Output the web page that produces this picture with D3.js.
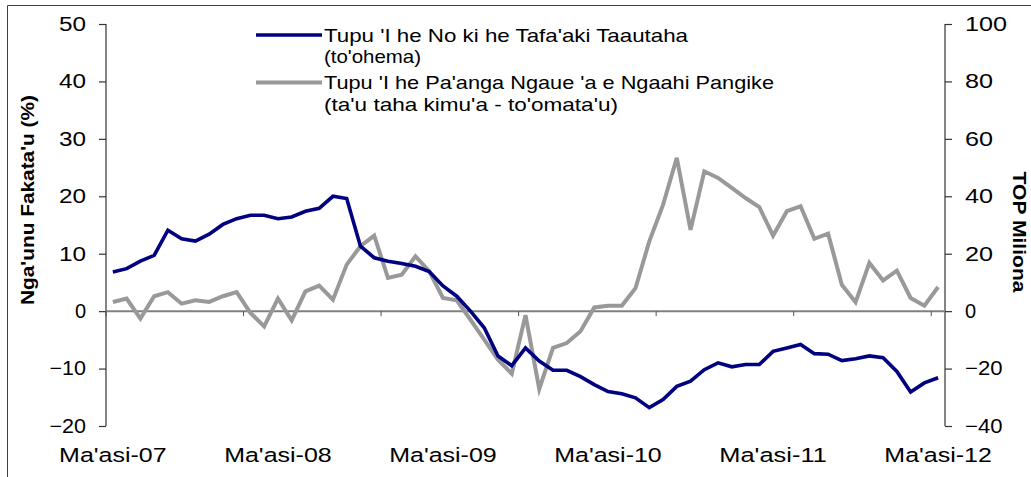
<!DOCTYPE html>
<html>
<head>
<meta charset="utf-8">
<script src="https://cdn.jsdelivr.net/npm/d3@7"></script>
<style>
  html, body { margin: 0; padding: 0; background: #fff; }
  svg { display: block; font-family: "Liberation Sans", Arial, sans-serif; }
</style>
</head>
<body>
<svg id="chart" width="1031" height="477"></svg>
<script>
// ---- data ----
const months = d3.range(61); // monthly, Ma'asi-07 .. Ma'asi-12
const xTickLabels = ["Ma'asi-07", "Ma'asi-08", "Ma'asi-09", "Ma'asi-10", "Ma'asi-11", "Ma'asi-12"];
const xTickLabelIdx = [0, 12, 24, 36, 48, 60];
const leftTicks = [-20, -10, 0, 10, 20, 30, 40, 50];
const rightTicks = [-40, -20, 0, 20, 40, 60, 80, 100];

// Tupu 'I he No ki he Tafa'aki Taautaha (%), left axis
const loanGrowth = [
  6.8, 7.4, 8.7, 9.7, 14.1, 12.6, 12.2, 13.4, 15.1, 16.1,
  16.7, 16.7, 16.1, 16.4, 17.4, 17.9, 20.0, 19.6, 11.3, 9.3,
  8.7, 8.3, 7.8, 6.9, 4.4, 2.6, 0.0, -2.9, -7.8, -9.5,
  -6.4, -8.7, -10.3, -10.3, -11.4, -12.8, -14.0, -14.4, -15.1, -16.8,
  -15.4, -13.1, -12.2, -10.2, -9.0, -9.7, -9.3, -9.3, -7.0, -6.4,
  -5.8, -7.4, -7.5, -8.6, -8.3, -7.8, -8.1, -10.5, -14.1, -12.5,
  -11.6
];
// Tupu 'I he Pa'anga Ngaue 'a e Ngaahi Pangike (TOP Miliona), right axis
const liquidityGrowth = [
  3.2, 4.4, -2.6, 5.2, 6.6, 2.6, 3.8, 3.2, 5.2, 6.6,
  -0.6, -5.3, 4.4, -3.2, 6.9, 8.9, 4.0, 16.2, 22.6, 26.3,
  11.6, 12.7, 19.1, 13.9, 4.6, 3.8, -3.0, -9.9, -16.9, -21.8,
  -1.4, -27.1, -12.8, -11.1, -7.0, 1.3, 1.9, 1.9, 8.0, 24.3,
  37.0, 53.4, 28.3, 48.7, 46.4, 42.9, 39.4, 36.2, 26.3, 34.8,
  36.5, 25.2, 27.0, 9.2, 3.1, 16.8, 10.7, 14.1, 4.6, 1.9,
  8.4
];
const seriesNames = [
  ["Tupu 'I he No ki he Tafa'aki Taautaha", "(to'ohema)"],
  ["Tupu 'I he Pa'anga Ngaue 'a e Ngaahi Pangike", "(ta'u taha kimu'a - to'omata'u)"]
];
const seriesColors = ["#000080", "#999999"];

// ---- layout ----
const svg = d3.select("#chart");
const plotLeft = 106, plotRight = 945, plotTop = 24, plotBottom = 426;

const x = d3.scaleBand().domain(months).range([plotLeft, plotRight]).paddingInner(0).paddingOuter(0);
const xc = i => x(i) + x.bandwidth() / 2;
const yL = d3.scaleLinear().domain([-20, 50]).range([plotBottom, plotTop]);
const yR = d3.scaleLinear().domain([-40, 100]).range([plotBottom, plotTop]);

// outer frame
svg.append("line").attr("x1", 7.5).attr("x2", 7.5).attr("y1", 5.5).attr("y2", 477)
  .attr("stroke", "#404040").attr("stroke-width", 1);
svg.append("line").attr("x1", 7.5).attr("x2", 1031).attr("y1", 5.5).attr("y2", 5.5)
  .attr("stroke", "#404040").attr("stroke-width", 1);

const numLen = d => { const s = String(d); return s.length === 1 ? null : (s.length === 2 ? 28 : (d < 0 ? 37.5 : 42)); };

// left axis
const leftAxis = d3.axisLeft(yL).tickValues(leftTicks).tickSize(7).tickPadding(13).tickFormat(d3.format("d"));
const gL = svg.append("g").attr("transform", `translate(${plotLeft},0)`).call(leftAxis);
gL.select(".domain").remove();
gL.selectAll(".tick line").attr("stroke", "#333").attr("stroke-width", 1.2);
gL.selectAll(".tick text").attr("font-size", 20).attr("fill", "#000")
  .attr("font-family", "'Liberation Sans', Arial, sans-serif")
  .attr("textLength", d => numLen(d) === null ? null : numLen(d) - 1)
  .attr("lengthAdjust", "spacingAndGlyphs");
svg.append("line").attr("x1", plotLeft).attr("x2", plotLeft).attr("y1", yL(50)).attr("y2", yL(-20))
  .attr("stroke", "#333").attr("stroke-width", 1.2);

// right axis
const rightAxis = d3.axisRight(yR).tickValues(rightTicks).tickSize(7).tickPadding(13).tickFormat(d3.format("d"));
const gR = svg.append("g").attr("transform", `translate(${plotRight},0)`).call(rightAxis);
gR.select(".domain").remove();
gR.selectAll(".tick line").attr("stroke", "#333").attr("stroke-width", 1.2);
gR.selectAll(".tick text").attr("font-size", 20).attr("fill", "#000")
  .attr("font-family", "'Liberation Sans', Arial, sans-serif")
  .attr("textLength", numLen)
  .attr("lengthAdjust", "spacingAndGlyphs");
svg.append("line").attr("x1", plotRight).attr("x2", plotRight).attr("y1", yR(100)).attr("y2", yR(-40))
  .attr("stroke", "#333").attr("stroke-width", 1.2);

// zero line (category axis) with ticks every 10 months
svg.append("line").attr("x1", plotLeft).attr("x2", plotRight).attr("y1", yL(0)).attr("y2", yL(0))
  .attr("stroke", "#808080").attr("stroke-width", 2);
svg.append("g").selectAll("line").data(d3.range(0, 61, 10)).join("line")
  .attr("x1", d => x(d)).attr("x2", d => x(d))
  .attr("y1", yL(0)).attr("y2", yL(0) + 5)
  .attr("stroke", "#555").attr("stroke-width", 1);

// x labels
svg.append("g").selectAll("text").data(xTickLabels).join("text")
  .attr("x", (d, i) => xc(xTickLabelIdx[i]))
  .attr("y", 461.5)
  .attr("text-anchor", "middle")
  .attr("font-size", 20.5)
  .attr("fill", "#000")
  .attr("textLength", 107.5).attr("lengthAdjust", "spacingAndGlyphs")
  .text(d => d);

// axis titles
svg.append("text")
  .attr("transform", `translate(34,200) rotate(-90)`)
  .attr("text-anchor", "middle")
  .attr("font-size", 19).attr("font-weight", "bold")
  .attr("textLength", 210).attr("lengthAdjust", "spacingAndGlyphs")
  .text("Nga'unu Fakata'u (%)");
svg.append("text")
  .attr("transform", `translate(1013,232) rotate(90)`)
  .attr("text-anchor", "middle")
  .attr("font-size", 19).attr("font-weight", "bold")
  .attr("textLength", 121).attr("lengthAdjust", "spacingAndGlyphs")
  .text("TOP Miliona");

// lines
const lineL = d3.line().x((d, i) => xc(i)).y(d => yL(d));
const lineR = d3.line().x((d, i) => xc(i)).y(d => yR(d));
svg.append("path").datum(liquidityGrowth).attr("d", lineR)
  .attr("fill", "none").attr("stroke", seriesColors[1]).attr("stroke-width", 4)
  .attr("stroke-linejoin", "miter");
svg.append("path").datum(loanGrowth).attr("d", lineL)
  .attr("fill", "none").attr("stroke", seriesColors[0]).attr("stroke-width", 3.6)
  .attr("stroke-linejoin", "miter");

// legend
const legendY = [35, 82.5];
const legendTextLens = [[364, 97], [450, 294]];
seriesNames.forEach((lines, s) => {
  svg.append("line").attr("x1", 256).attr("x2", 322).attr("y1", legendY[s]).attr("y2", legendY[s])
    .attr("stroke", seriesColors[s]).attr("stroke-width", s === 0 ? 3.6 : 4);
  lines.forEach((t, j) => {
    svg.append("text")
      .attr("x", 324).attr("y", legendY[s] + 6.7 + j * 21.5)
      .attr("font-size", 18.5).attr("fill", "#000")
      .attr("textLength", legendTextLens[s][j]).attr("lengthAdjust", "spacingAndGlyphs")
      .text(t);
  });
});
</script>
</body>
</html>
